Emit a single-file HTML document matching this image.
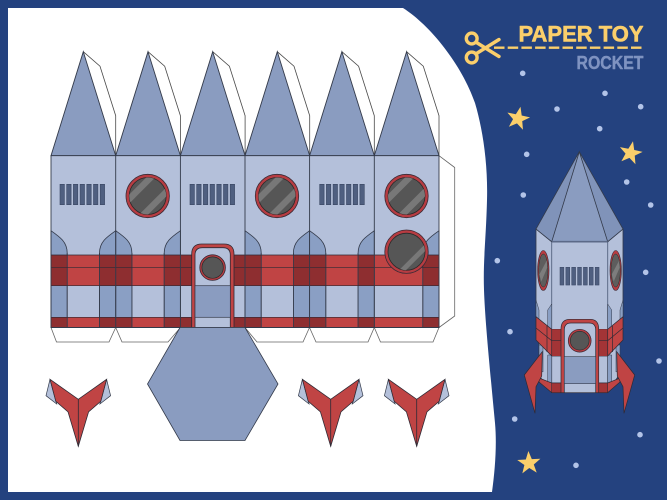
<!DOCTYPE html>
<html><head><meta charset="utf-8"><style>
html,body{margin:0;padding:0;width:667px;height:500px;overflow:hidden;background:#24427f}
svg{display:block}
text{font-family:"Liberation Sans",sans-serif;font-weight:bold}
</style></head><body>
<svg width="667" height="500" viewBox="0 0 667 500" xmlns="http://www.w3.org/2000/svg" xmlns:xlink="http://www.w3.org/1999/xlink">
<defs>
<clipPath id="c1"><circle cx="0" cy="0" r="18.5"/></clipPath>
<g id="top">
<path d="M32.3,0L49,14.5L64.7,64V104" fill="#fff" stroke="#4a4a4a" stroke-width=".8"/>
<path d="M32.3,0L64.7,104H0Z" fill="#8a9cc0" stroke="#333a4a" stroke-width=".9"/>
</g>
<g id="win">
<circle r="21.7" fill="#b73c42" stroke="#3a2a35" stroke-width=".8"/>
<circle r="18.5" fill="#565656" stroke="#2a2a2a" stroke-width=".8"/>
<g clip-path="url(#c1)" fill="#787878">
<path d="M-22,2L2,-22L11,-22L-22,11Z"/>
<path d="M-10,20L20,-10L20,-1L-1,20Z"/>
</g>
</g>
<g id="vent" fill="#4f5f80" stroke="#3a4763" stroke-width=".6">
<rect x="0" width="4.4" height="20.4" y="0"/><rect x="6.7" width="4.4" height="20.4"/><rect x="13.4" width="4.4" height="20.4"/><rect x="20.1" width="4.4" height="20.4"/><rect x="26.8" width="4.4" height="20.4"/><rect x="33.5" width="4.4" height="20.4"/><rect x="40.2" width="4.4" height="20.4"/>
</g>
<g id="ar">
<path d="M0,230.7C9,237 16.2,242 16.2,253V327.5H0Z" fill="#8a9fc4" stroke="#333a4a" stroke-width=".8"/>
<rect x="0" y="255" width="16.2" height="30.7" fill="#8e2e30"/>
<rect x="0" y="317.3" width="16.2" height="10.2" fill="#8e2e30"/>
<path d="M16.2,253V327.5" stroke="#333a4a" stroke-width=".8"/>
</g>
<g id="fin">
<path d="M-28.3,0L-32.3,16.4L-21.6,24.7ZM28.3,0L32.3,16.4L21.6,24.7Z" fill="#b4c0da" stroke="#333a4a" stroke-width=".7"/>
<path d="M-28.3,0L0,20L28.3,0L22.5,22L10.3,32.5L0,67L-10.3,32.5L-22.5,22Z" fill="#c04444" stroke="#2e2a35" stroke-width=".8"/>
<path d="M0,20V67" stroke="#2e2a35" stroke-width=".8"/>
</g>
<path id="star" d="M0,-12L3,-3.7L11.6,-3.6L4.7,1.7L7.2,10L0,5L-7.2,10L-4.7,1.7L-11.6,-3.6L-3,-3.7Z" fill="#fbcf6b"/>
<g id="swin">
<ellipse rx="5.7" ry="20" fill="#b73c42" stroke="#3a2a35" stroke-width=".6"/>
<ellipse rx="4.6" ry="16.5" fill="#5d5d5d" stroke="#2a2a2a" stroke-width=".5"/>
<path d="M-4,4L3.5,-10L4,-3L-2,11Z" fill="#7d7d7d"/>
</g>
</defs>

<rect width="667" height="500" fill="#24427f"/>
<path d="M8,8H403C430,25 462,65 475,103C483,130 488,165 487,200C486,240 483,260 484,290C485,320 490,370 495,423C497,445 495,470 492,492H8Z" fill="#fff"/>

<!-- bottom tabs -->
<g fill="#fff" stroke="#666" stroke-width=".8">
<path d="M51,327.5L56.5,342H109L115.7,327.5"/>
<path d="M115.7,327.5L122,342H168L180.5,327.5"/>
<path d="M245,327.5L257,342H303L309.5,327.5"/>
<path d="M309.5,327.5L316,342H368L374.3,327.5"/>
<path d="M374.3,327.5L380.5,342H433L439,327.5"/>
<path d="M439,155.7L454.7,167.5V316L439,327.5"/>
</g>
<use href="#top" transform="translate(51,51.7)"/>
<use href="#top" transform="translate(115.7,51.7)"/>
<use href="#top" transform="translate(180.4,51.7)"/>
<use href="#top" transform="translate(245,51.7)"/>
<use href="#top" transform="translate(309.6,51.7)"/>
<use href="#top" transform="translate(374.3,51.7)"/>

<!-- body -->
<rect x="51" y="155.7" width="388" height="171.8" fill="#b4c0da"/>
<rect x="51" y="255" width="388" height="30.7" fill="#c04444"/>
<rect x="51" y="317.3" width="388" height="10.2" fill="#c04444"/>
<use href="#ar" transform="translate(51,0)"/>
<use href="#ar" transform="translate(115.7,0)"/>
<use href="#ar" transform="translate(115.7,0) scale(-1,1)"/>
<use href="#ar" transform="translate(180.4,0) scale(-1,1)"/>
<use href="#ar" transform="translate(245,0)"/>
<use href="#ar" transform="translate(309.6,0)"/>
<use href="#ar" transform="translate(309.6,0) scale(-1,1)"/>
<use href="#ar" transform="translate(374.3,0) scale(-1,1)"/>
<use href="#ar" transform="translate(439,0) scale(-1,1)"/>
<rect x="180.4" y="255" width="64.6" height="30.7" fill="#8e2e30"/>
<rect x="180.4" y="317.3" width="64.6" height="10.2" fill="#8e2e30"/>
<g stroke="#2e2a35" stroke-width=".7" fill="none">
<path d="M51,255H439M51,267.3H439M51,285.7H439M51,317.3H439"/>
</g>
<g stroke="#333a4a" stroke-width=".9" fill="none">
<path d="M51,155.7H439V327.5H51Z"/>
<path d="M115.7,155.7V327.5M180.4,155.7V327.5M245,155.7V327.5M309.6,155.7V327.5M374.3,155.7V327.5"/>
</g>
<use href="#vent" transform="translate(60,184.3)"/>
<use href="#vent" transform="translate(190,184.3)"/>
<use href="#vent" transform="translate(319.7,184.3)"/>
<use href="#win" transform="translate(147.7,196)"/>
<use href="#win" transform="translate(277,196)"/>
<use href="#win" transform="translate(406.5,196)"/>
<g transform="translate(406.5,251.7)">
<circle r="21.7" fill="#b73c42" stroke="#3a2a35" stroke-width=".8"/>
<circle r="18.5" fill="#565656" stroke="#2a2a2a" stroke-width=".8"/>
<g clip-path="url(#c1)" fill="#787878"><path d="M-8,19L19,-8V-1L-2,20Z"/></g>
</g>
<!-- door -->
<path d="M191.7,327.5V254Q191.7,244 201.7,244H224Q234,244 234,254V327.5Z" fill="#c04444" stroke="#2e2a35" stroke-width=".8"/>
<path d="M195,327.5V255Q195,247.7 202.5,247.7H223Q230.3,247.7 230.3,255V327.5Z" fill="#b4c0da" stroke="#2e2a35" stroke-width=".8"/>
<rect x="195" y="285.7" width="35.3" height="31.6" fill="#8a9cc0" stroke="#333a4a" stroke-width=".7"/>
<circle cx="212.6" cy="267.6" r="12.8" fill="#b73c42" stroke="#3a2a35" stroke-width=".8"/>
<circle cx="212.6" cy="267.6" r="10.7" fill="#565656" stroke="#2a2a2a" stroke-width=".7"/>
<!-- hexagon -->
<path d="M180,327.5H245L278,384L245,440.5H180L147.5,384Z" fill="#8a9cc0" stroke="#333a4a" stroke-width=".8"/>
<!-- fins -->
<use href="#fin" transform="translate(78.3,379.3)"/>
<use href="#fin" transform="translate(330.7,379.3)"/>
<use href="#fin" transform="translate(416.7,379.3)"/>

<!-- title -->
<text x="518.5" y="41.5" font-size="22.5" textLength="125" lengthAdjust="spacingAndGlyphs" fill="#fbcf6b" stroke="#fbcf6b" stroke-width=".6" stroke-linejoin="round">PAPER TOY</text>
<path d="M494,47.7H644" stroke="#fbcf6b" stroke-width="2.4" stroke-dasharray="10.5 3.2" fill="none"/>
<text x="576.5" y="69" font-size="18" textLength="67" lengthAdjust="spacingAndGlyphs" fill="#7f93c1" stroke="#7f93c1" stroke-width=".4" stroke-linejoin="round">ROCKET</text>
<g fill="none" stroke="#fbcf6b" stroke-width="3.4">
<circle cx="471.7" cy="38.5" r="5.4"/><circle cx="471.7" cy="57.5" r="5.4"/>
<path d="M476.5,42.5L499,56.5M476.5,53.5L499,39.5" stroke-linecap="round"/>
</g>
<!-- dots -->
<g fill="#b3c4e8">
<circle cx="522.7" cy="73.3" r="2.8"/><circle cx="605" cy="93.3" r="2.8"/><circle cx="557" cy="109" r="2.8"/><circle cx="640.7" cy="106.7" r="2.8"/><circle cx="599.7" cy="128.7" r="2.8"/><circle cx="526.7" cy="154.3" r="2.8"/><circle cx="626.7" cy="182" r="2.8"/><circle cx="523.3" cy="195" r="2.8"/><circle cx="650.7" cy="205" r="2.8"/><circle cx="497.3" cy="260.7" r="2.8"/><circle cx="645.7" cy="272.3" r="2.8"/><circle cx="510" cy="331.7" r="2.8"/><circle cx="659" cy="361" r="2.8"/><circle cx="514.7" cy="419" r="2.8"/><circle cx="640" cy="434.7" r="2.8"/><circle cx="576" cy="465.3" r="2.8"/>
</g>
<use href="#star" transform="translate(518,118.5) rotate(12)"/>
<use href="#star" transform="translate(630.5,153) rotate(12)"/>
<use href="#star" transform="translate(529,463) rotate(-3)"/>

<!-- side rocket -->
<path d="M536,229L551.7,241.7H607.7L623,229V325L619,345V375L612,386L607.7,392.7H551.7L546,386L539,375V345L536,325Z" fill="#b4c0da" stroke="#333a4a" stroke-width=".8"/>
<path d="M551.7,241.7V392.7M607.7,241.7V392.7" stroke="#55627f" stroke-width=".9"/>
<path d="M547.7,330V310L551.7,304V330ZM611.7,330V310L607.7,304V330ZM547.7,355H551.7V385L547.7,382ZM607.7,355H611.7V382L607.7,385ZM536,300L539,310V320L536,318ZM623,300L620,310V320L623,318ZM539,345H543V372L539,370ZM620,345H616V372L620,370Z" fill="#8a9fc4" stroke="#333a4a" stroke-width=".5"/>
<path d="M579.3,151.7L536,229L551.7,241.7H607.7L623,229Z" fill="#8093b9" stroke="#333a4a" stroke-width=".8"/>
<path d="M579.3,151.7L551.7,241.7H607.7Z" fill="#8a9cc0" stroke="#333a4a" stroke-width=".8"/>
<path d="M551.7,241.7H607.7" stroke="#5c6a88" stroke-width="1.6"/>
<use href="#vent" transform="translate(560,267.3) scale(.875,.87)"/>
<use href="#swin" transform="translate(543.3,270.5)"/>
<use href="#swin" transform="translate(615.7,270.5)"/>
<path d="M536,316.7L551.7,329.3H607.7L623,316.7V340L607.7,356H551.7L536,340Z" fill="#c04444" stroke="#2e2a35" stroke-width=".7"/>
<path d="M551.7,329.3H607.7V356H551.7Z" fill="#a33436"/>
<path d="M536,328L551.7,340.7H607.7L623,328M551.7,329.3V356M607.7,329.3V356M547,326V352M612.5,326V352" stroke="#2e2a35" stroke-width=".7" fill="none"/>
<path d="M539,378L551.7,383H607.7L620,378V382L607.7,392.7H551.7L539,382Z" fill="#c04444" stroke="#2e2a35" stroke-width=".7"/>
<rect x="551.7" y="383" width="56" height="9.7" fill="#a33436" stroke="#2e2a35" stroke-width=".6"/>
<path d="M561,392.7V329Q561,319.3 570,319.3H590Q598.7,319.3 598.7,329V392.7Z" fill="#c04444" stroke="#2e2a35" stroke-width=".7"/>
<path d="M564.3,392.7V330Q564.3,323 571,323H589Q595.7,323 595.7,330V392.7Z" fill="#b4c0da" stroke="#2e2a35" stroke-width=".7"/>
<rect x="564.3" y="356.7" width="31.4" height="27" fill="#8a9cc0" stroke="#333a4a" stroke-width=".6"/>
<circle cx="579.7" cy="340.7" r="11.4" fill="#b73c42" stroke="#3a2a35" stroke-width=".7"/>
<circle cx="579.7" cy="340.7" r="9.4" fill="#565656" stroke="#2a2a2a" stroke-width=".6"/>
<path d="M542.3,351.7L524.3,375L535,413.3L536,386.7L541.7,376Z" fill="#c04444" stroke="#2e2a35" stroke-width=".7"/>
<path d="M616.7,351.7L634.7,375L624,413.3L623,386.7L617.3,376Z" fill="#c04444" stroke="#2e2a35" stroke-width=".7"/>
</svg>
</body></html>
